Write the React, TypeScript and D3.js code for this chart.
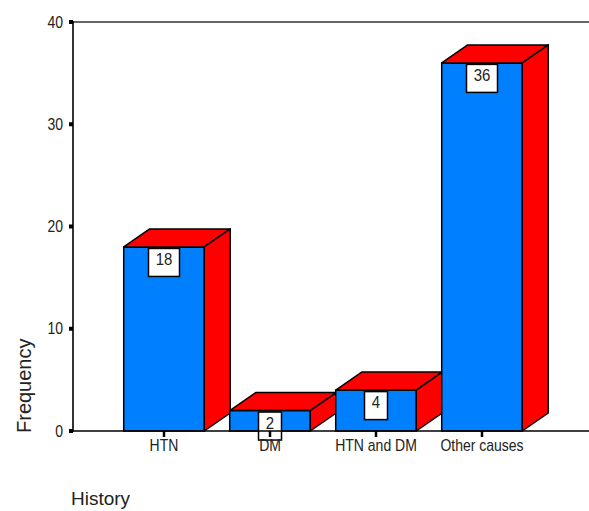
import React from "react";
import * as d3 from "d3";

const categories = ["HTN", "DM", "HTN and DM", "Other causes"];
const frequencies = [18, 2, 4, 36];
const yTicks = [0, 10, 20, 30, 40];

const W = 589;
const H = 511;
const FONT = "'Liberation Sans', Arial, sans-serif";

export default function App() {
  const y = d3.scaleLinear().domain([0, 40]).range([431, 22]);
  const x = d3
    .scaleBand<string>()
    .domain(categories)
    .range([111, 535])
    .paddingInner(0.24)
    .paddingOuter(0.12);
  const axisX = 73;
  const dx = 26;
  const dy = 18;
  const y0 = y(0);
  const sy = 1.15;

  return (
    <svg
      width={W}
      height={H}
      style={{ position: "absolute", left: 0, top: 0, background: "#fff" }}
      fontFamily={FONT}
    >
      <rect x={0} y={0} width={W} height={H} fill="#fff" />
      <line x1={axisX} x2={W} y1={y(40)} y2={y(40)} stroke="#333" strokeWidth={1.6} />
      {categories.map((c, i) => {
        const v = frequencies[i];
        const x0 = x(c)!;
        const x1 = x0 + x.bandwidth();
        const yt = y(v);
        const top = `M${x0},${yt}L${x0 + dx},${yt - dy}L${x1 + dx},${yt - dy}L${x1},${yt}Z`;
        const side = `M${x1},${yt}L${x1 + dx},${yt - dy}L${x1 + dx},${y0 - dy}L${x1},${y0}Z`;
        const label = String(v);
        const bw = 15 + 8 * label.length;
        const cx = (x0 + x1) / 2;
        return (
          <g key={c}>
            <rect x={x0} y={yt} width={x1 - x0} height={y0 - yt} fill="#0080ff" stroke="#000" strokeWidth={1.5} />
            <path d={top} fill="#ff0000" stroke="#000" strokeWidth={1.5} strokeLinejoin="round" />
            <path d={side} fill="#ff0000" stroke="#000" strokeWidth={1.5} strokeLinejoin="round" />
            <rect x={cx - bw / 2} y={yt + 1.5} width={bw} height={28} fill="#fff" stroke="#000" strokeWidth={1.5} />
            <text
              transform={`translate(${cx},${yt + 18}) scale(1,${sy})`}
              textAnchor="middle"
              fontSize={15}
              fill="#222"
            >
              {label}
            </text>
          </g>
        );
      })}
      <line x1={axisX} x2={axisX} y1={y(40) - 1} y2={y0 + 1} stroke="#000" strokeWidth={1.6} />
      {yTicks.map((t) => (
        <g key={t}>
          <line x1={69} x2={axisX} y1={y(t)} y2={y(t)} stroke="#000" strokeWidth={4} />
          <text
            transform={`translate(63,${y(t)}) scale(1,${sy})`}
            dy="0.35em"
            textAnchor="end"
            fontSize={14}
            fill="#222"
          >
            {t}
          </text>
        </g>
      ))}
      <line x1={axisX} x2={W} y1={y0} y2={y0} stroke="#000" strokeWidth={1.6} />
      {categories.map((c) => {
        const cx = x(c)! + x.bandwidth() / 2;
        return (
          <g key={c}>
            <line x1={cx} x2={cx} y1={y0} y2={y0 + 6} stroke="#000" strokeWidth={2.5} />
            <text
              transform={`translate(${cx},451) scale(1,${sy})`}
              textAnchor="middle"
              fontSize={14}
              fill="#222"
            >
              {c}
            </text>
          </g>
        );
      })}
      <text transform={`translate(31,433) rotate(-90)`} fontSize={20} fill="#222" textAnchor="start">
        Frequency
      </text>
      <text x={71} y={505} fontSize={19} fill="#222">
        History
      </text>
    </svg>
  );
}
